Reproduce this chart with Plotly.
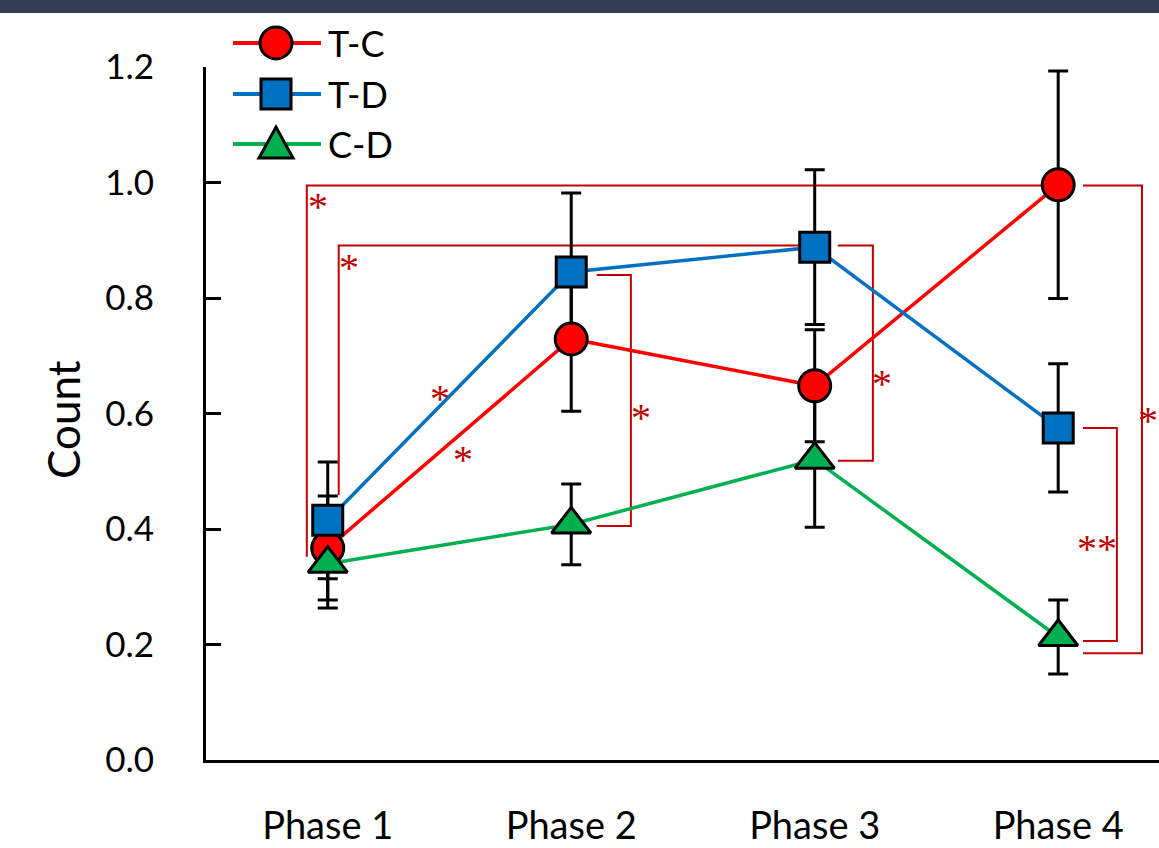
import plotly.graph_objects as go

# ---- data -------------------------------------------------------------
phases = ["Phase 1", "Phase 2", "Phase 3", "Phase 4"]
x_pos = [0, 1, 2, 3]

tc_mean = [0.367, 0.729, 0.648, 0.996]
tc_err = [0.090, 0.125, 0.097, 0.197]

td_mean = [0.415, 0.845, 0.888, 0.575]
td_err = [0.101, 0.137, 0.134, 0.111]

cd_mean = [0.340, 0.408, 0.520, 0.213]
cd_err = [0.077, 0.070, 0.117, 0.064]

y_ticks = [0.0, 0.2, 0.4, 0.6, 0.8, 1.0, 1.2]

# ---- geometry of the page (pixels) -----------------------------------
W, H = 1159, 848
PL, PR, PT, PB = 206, 1159, 67, 760
X_MIN, X_MAX = -0.5, 3.414
Y_MIN, Y_MAX = 0.0, 1.2


def px_to_paper_x(px):
    return (px - PL) / (PR - PL)


def py_to_paper_y(py):
    return (PB - py) / (PB - PT)


series = [
    dict(name="T-C", mean=tc_mean, err=tc_err, color="#FF0000", symbol="circle", size=32),
    dict(name="T-D", mean=td_mean, err=td_err, color="#0070C0", symbol="square", size=30),
    dict(name="C-D", mean=cd_mean, err=cd_err, color="#00B050", symbol="triangle-up", size=34),
]

SIG = "#C00000"
FONT = "Lato"

fig = go.Figure()

# connecting lines
for s in series:
    fig.add_trace(go.Scatter(
        x=x_pos, y=s["mean"], mode="lines",
        line=dict(color=s["color"], width=3.5),
        showlegend=False, hoverinfo="skip",
    ))

# error bars (kept under every marker)
for s in series:
    fig.add_trace(go.Scatter(
        x=x_pos, y=s["mean"], mode="markers",
        marker=dict(size=1, color="rgba(0,0,0,0)"),
        error_y=dict(type="data", array=s["err"], color="black",
                     thickness=3, width=10),
        showlegend=False, hoverinfo="skip",
    ))

# markers
for s in series:
    fig.add_trace(go.Scatter(
        x=x_pos, y=s["mean"], mode="markers", name=s["name"],
        marker=dict(symbol=s["symbol"], size=s["size"], color=s["color"],
                    line=dict(color="black", width=3)),
        showlegend=False,
    ))

# ---- hand-drawn legend -----------------------------------------------
legend_rows = [43, 94, 144]
key_x = 276
shapes = []
annotations = []
for s, row in zip(series, legend_rows):
    ax, ay = px_to_paper_x(key_x), py_to_paper_y(row)
    shapes.append(dict(
        type="line", xref="paper", yref="paper", layer="above",
        x0=px_to_paper_x(233), x1=px_to_paper_x(321), y0=ay, y1=ay,
        line=dict(color=s["color"], width=4),
    ))
    key = dict(xref="paper", yref="paper", layer="above",
               xsizemode="pixel", ysizemode="pixel", xanchor=ax, yanchor=ay,
               fillcolor=s["color"], line=dict(color="black", width=3))
    if s["symbol"] == "circle":
        key.update(type="circle", x0=-16, x1=16, y0=-16, y1=16)
    elif s["symbol"] == "square":
        key.update(type="rect", x0=-15, x1=15, y0=-15, y1=15)
    else:
        key.update(type="path", path="M -17,-14 L 17,-14 L 0,17 Z")
    shapes.append(key)
    annotations.append(dict(
        xref="paper", yref="paper", x=px_to_paper_x(326), y=ay,
        xanchor="left", yanchor="middle", showarrow=False, text=s["name"],
        font=dict(family=FONT, size=36, color="black"),
    ))

# ---- significance brackets -------------------------------------------
brackets = [
    # T-C: Phase 1 vs Phase 4
    "M -0.086,0.352 L -0.086,0.995 L 3,0.995",
    # T-D: Phase 1 vs Phase 3
    "M 0.045,0.459 L 0.045,0.891 L 2,0.891",
    # Phase 2: T-D vs C-D
    "M 1.105,0.840 L 1.245,0.840 L 1.245,0.405 L 1.105,0.405",
    # Phase 3: T-D vs C-D
    "M 2.095,0.891 L 2.239,0.891 L 2.239,0.518 L 2.095,0.518",
    # Phase 4: T-D vs C-D
    "M 3.102,0.575 L 3.241,0.575 L 3.241,0.206 L 3.102,0.206",
    # Phase 4: T-C vs C-D
    "M 3.102,0.995 L 3.344,0.995 L 3.344,0.185 L 3.102,0.185",
]
for p in brackets:
    shapes.append(dict(type="path", xref="x", yref="y", path=p, layer="below",
                       line=dict(color=SIG, width=2)))

stars = [
    (-0.041, 0.975, "*"),
    (0.086, 0.871, "*"),
    (0.460, 0.644, "*"),
    (0.555, 0.537, "*"),
    (1.286, 0.611, "*"),
    (2.276, 0.670, "*"),
    (3.159, 0.384, "**"),
    (3.370, 0.606, "*"),
]
for sx, sy, txt in stars:
    annotations.append(dict(
        x=sx, y=sy, xref="x", yref="y", text=txt, showarrow=False,
        yshift=-10, font=dict(family="Liberation Serif", size=40, color=SIG),
    ))

# y-axis title
annotations.append(dict(
    xref="paper", yref="paper", x=px_to_paper_x(63), y=py_to_paper_y(420),
    xanchor="center", yanchor="middle",
    text="Count", textangle=-90, showarrow=False,
    font=dict(family=FONT, size=44, color="black"),
))

# dark band along the top edge
shapes.append(dict(
    type="rect", xref="paper", yref="paper",
    x0=-0.5, x1=1.5, y0=py_to_paper_y(13), y1=py_to_paper_y(-5),
    fillcolor="#333F50", line=dict(width=0), layer="above",
))

fig.update_layout(
    width=W, height=H,
    margin=dict(l=PL, r=W - PR, t=PT, b=H - PB, pad=0),
    paper_bgcolor="white", plot_bgcolor="rgba(0,0,0,0)",
    showlegend=False,
    shapes=shapes, annotations=annotations,
    xaxis=dict(
        range=[X_MIN, X_MAX], tickmode="array", tickvals=x_pos, ticktext=phases,
        showline=True, linecolor="black", linewidth=3, ticks="",
        showgrid=False, zeroline=False, ticklabelstandoff=30,
        tickfont=dict(family=FONT, size=38, color="black"),
    ),
    yaxis=dict(
        range=[Y_MIN, Y_MAX], tickmode="array", tickvals=y_ticks,
        ticktext=[f"{v:.1f}" for v in y_ticks],
        showline=True, linecolor="black", linewidth=3,
        ticks="inside", ticklen=15, tickwidth=3, tickcolor="black",
        showgrid=False, zeroline=False, ticklabelstandoff=42,
        tickfont=dict(family=FONT, size=35, color="black"),
    ),
)

fig.write_html("out.html")
